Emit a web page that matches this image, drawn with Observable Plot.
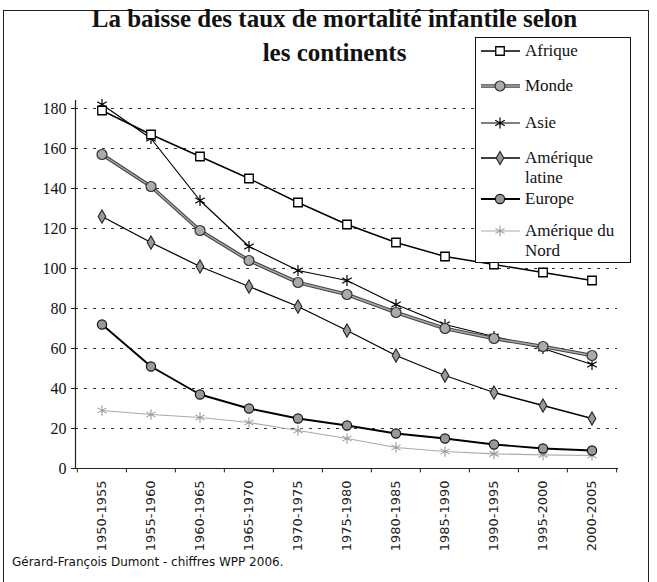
<!DOCTYPE html>
<html><head><meta charset="utf-8">
<script src="https://cdn.jsdelivr.net/npm/d3@7"></script>
<script src="https://cdn.jsdelivr.net/npm/@observablehq/plot@0.6"></script>
<style>
body{margin:0;background:#fff;}
#wrap{position:relative;width:657px;height:582px;overflow:hidden;background:#fff;}
#frame{position:absolute;left:3px;top:10px;width:646px;height:620px;border:1.5px solid #222;box-sizing:border-box;}
#chart{position:absolute;left:0;top:0;}
.title{position:absolute;left:6px;width:657px;text-align:center;font:bold 25px "Liberation Serif",serif;color:#111;white-space:nowrap;}
#legend{position:absolute;left:475px;top:37px;width:156px;height:226px;border:1.5px solid #111;background:#fff;box-sizing:border-box;}
.item{position:absolute;left:0;width:156px;}
.item svg{position:absolute;left:4px;}
.item span{position:absolute;left:49px;font:17px "Liberation Serif",serif;line-height:20px;color:#111;white-space:nowrap;}
#caption{position:absolute;left:12px;top:555px;font:12px "DejaVu Sans",sans-serif;color:#111;white-space:nowrap;}
</style></head>
<body>
<div id="wrap">
  <div id="frame"></div>
  <div id="chart"></div>
  <div class="title" style="top:5px">La baisse des taux de mortalité infantile selon</div>
  <div class="title" style="top:39px">les continents</div>
  <div id="legend"></div>
  <div id="caption"></div>
</div>
<script>
// ---- data ----
const periods = ["1950-1955","1955-1960","1960-1965","1965-1970","1970-1975","1975-1980","1980-1985","1985-1990","1990-1995","1995-2000","2000-2005"];
const afrique        = [179,167,156,145,133,122,113,106,102,98,94];
const monde          = [157,141,119,104,93,87,78,70,65,61,56.5];
const asie           = [182,165,134,111,99,94,82,72,66,60,52];
const ameriqueLatine = [126,113,101,91,81,69,56.5,46.5,38,31.5,25];
const europe         = [72,51,37,30,25,21.5,17.5,15,12,10,9];
const ameriqueNord   = [29,27,25.5,23,19,15,10.5,8.5,7.3,6.8,6.5];
const seriesNames = ["Afrique","Monde","Asie","Amérique latine","Europe","Amérique du Nord"];
const legendLabels = [["Afrique"],["Monde"],["Asie"],["Amérique","latine"],["Europe"],["Amérique du","Nord"]];
const yTicks = [0,20,40,60,80,100,120,140,160,180];
const sourceText = "Gérard-François Dumont - chiffres WPP 2006.";

const values = [afrique, monde, asie, ameriqueLatine, europe, ameriqueNord];
const rows = [];
seriesNames.forEach((s,k)=>values[k].forEach((v,i)=>rows.push({serie:s, periode:periods[i], valeur:v})));

// ---- styles per series ----
const styles = {
  "Afrique":          {line:[{stroke:"#000",w:1.4}], symbol:"square",   r:4.8, fill:"#fff", stroke:"#000", sw:1.3},
  "Monde":            {line:[{stroke:"#444",w:3.6},{stroke:"#aaa",w:1.4}], symbol:"circle", r:5, fill:"#aaa", stroke:"#333", sw:1.2},
  "Asie":             {line:[{stroke:"#000",w:1.2}], symbol:"asterisk", r:5.2, fill:"none", stroke:"#000", sw:1.2},
  "Amérique latine":  {line:[{stroke:"#000",w:1.3}], symbol:"diamond",  r:4.0, fill:"#999", stroke:"#222", sw:1.1},
  "Europe":           {line:[{stroke:"#000",w:1.9}], symbol:"circle",   r:4.6, fill:"#999", stroke:"#111", sw:1.2},
  "Amérique du Nord": {line:[{stroke:"#aaa",w:1.2}], symbol:"asterisk", r:5,   fill:"none", stroke:"#999", sw:1.1}
};
const drawOrder = ["Amérique du Nord","Europe","Amérique latine","Asie","Monde","Afrique"];

const W = 657, H = 582, mL = 75, mR = 40, mT = 100, mB = 114;
const bw = (W - mL - mR) / periods.length;

const marks = [
  Plot.gridY(yTicks.filter(t=>t>0), {stroke:"#333", strokeOpacity:1, strokeWidth:1, strokeDasharray:"3,6"}),
  Plot.frame({anchor:"left", stroke:"#222", strokeWidth:1.2}),
  Plot.frame({anchor:"bottom", stroke:"#222", strokeWidth:1.2}),
  Plot.axisY(yTicks, {tickSize:4, tickPadding:5, fontSize:16, fontFamily:"Liberation Serif", label:null, stroke:"#222"}),
  Plot.ruleX(periods, {x:d=>d, y1:0, y2:-2.2, dx:-bw/2, stroke:"#222"}),
  Plot.ruleX(periods.slice(-1), {x:d=>d, y1:0, y2:-2.2, dx:bw/2, stroke:"#222"}),
  Plot.text(periods, {x:d=>d, frameAnchor:"bottom", dy:12, rotate:-90, textAnchor:"end", lineAnchor:"middle", fontSize:13, fontFamily:"DejaVu Sans", fill:"#222"})
];
for (const s of drawOrder) {
  const st = styles[s];
  for (const l of st.line) {
    marks.push(Plot.line(rows, {filter:d=>d.serie===s, x:"periode", y:"valeur", stroke:l.stroke, strokeWidth:l.w}));
  }
}
for (const s of drawOrder) {
  const st = styles[s];
  marks.push(Plot.dot(rows, {filter:d=>d.serie===s, x:"periode", y:"valeur", symbol:()=>st.symbol, r:st.r, fill:st.fill, stroke:st.stroke, strokeWidth:st.sw}));
}

const chart = Plot.plot({
  width:W, height:H, marginLeft:mL, marginRight:mR, marginTop:mT, marginBottom:mB,
  x:{type:"band", domain:periods, padding:0, axis:null},
  y:{domain:[0,184], axis:null},
  symbol:{type:"identity"},
  style:{background:"transparent", fontFamily:"Liberation Serif", color:"#111"},
  marks
});
document.getElementById("chart").appendChild(chart);

// ---- legend ----
const symMap = {square:d3.symbolSquare, circle:d3.symbolCircle, asterisk:d3.symbolAsterisk, diamond:d3.symbolDiamond, times:d3.symbolTimes};
const legendY = [13, 48, 85, 120, 161, 193]; // centre of first text line, legend coords
const leg = document.getElementById("legend");
const ns = "http://www.w3.org/2000/svg";
seriesNames.forEach((s,k)=>{
  const st = styles[s];
  const item = document.createElement("div");
  item.className = "item";
  item.style.top = (legendY[k]-10) + "px";
  const svg = document.createElementNS(ns,"svg");
  svg.setAttribute("width",42); svg.setAttribute("height",20);
  svg.style.top = "0px";
  for (const l of st.line) {
    const ln = document.createElementNS(ns,"line");
    ln.setAttribute("x1",1); ln.setAttribute("x2",40); ln.setAttribute("y1",10); ln.setAttribute("y2",10);
    ln.setAttribute("stroke",l.stroke); ln.setAttribute("stroke-width",l.w);
    svg.appendChild(ln);
  }
  const p = document.createElementNS(ns,"path");
  p.setAttribute("d", d3.symbol(symMap[st.symbol], st.r*st.r*Math.PI)());
  p.setAttribute("transform","translate(20,10)");
  p.setAttribute("fill",st.fill); p.setAttribute("stroke",st.stroke); p.setAttribute("stroke-width",st.sw);
  svg.appendChild(p);
  item.appendChild(svg);
  legendLabels[k].forEach((txt,j)=>{
    const sp = document.createElement("span");
    sp.style.top = (j*20) + "px";
    sp.textContent = txt;
    item.appendChild(sp);
  });
  leg.appendChild(item);
});
document.getElementById("caption").textContent = sourceText;
</script>
</body></html>
